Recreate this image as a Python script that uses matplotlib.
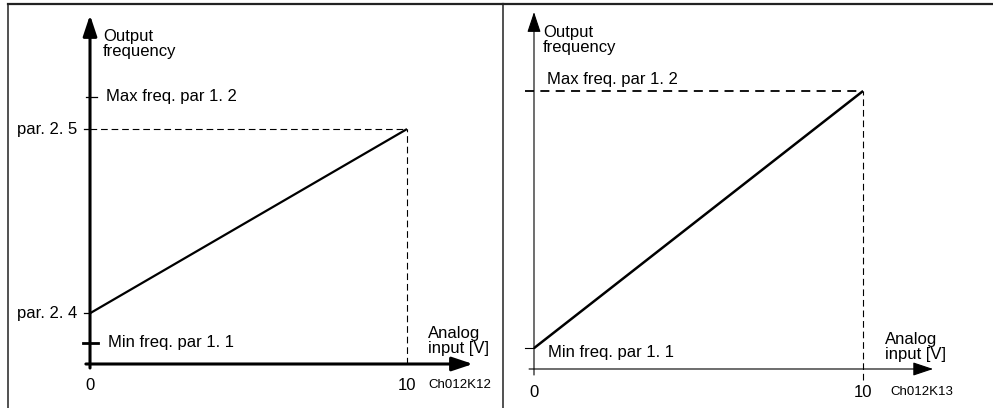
import matplotlib
matplotlib.use('Agg')
from matplotlib import pyplot as plt

plt.rcParams['font.family'] = ['Liberation Sans', 'DejaVu Sans']

# data (illustrative frequency units, input in volts)
volts = [0, 10]
volt_ticks = ['0', '10']

# left chart: par 2.4 -> par 2.5 scaling between min/max freq
left_min_freq = 8
left_max_freq = 100
left_out = [19, 88]          # par. 2.4, par. 2.5
left_out_labels = ['par. 2. 4', 'par. 2. 5']

# right chart: straight min -> max freq
right_min_freq = 7.5
right_max_freq = 100
right_out = [right_min_freq, right_max_freq]

fs = 12
W, H = 993, 408
fig = plt.figure(figsize=(W / 100, H / 100), dpi=100)


def panel(rect, xlim, ylim):
    ax = fig.add_axes(rect)
    ax.set_xlim(*xlim)
    ax.set_ylim(*ylim)
    ax.set_xticks([])
    ax.set_yticks([])
    for s in ['right', 'bottom']:
        ax.spines[s].set_visible(False)
    ax.spines['top'].set_linewidth(1.6)
    ax.spines['top'].set_color('#222222')
    ax.spines['left'].set_linewidth(1.2)
    ax.spines['left'].set_color('#333333')
    return ax


def axis_arrow(ax, start, tip, lw):
    ax.annotate('', xy=tip, xytext=start,
                arrowprops=dict(arrowstyle='-|>,head_length=0.9,head_width=0.3',
                                lw=lw, color='black', shrinkA=0, shrinkB=0,
                                mutation_scale=14))


# ---- left panel ----
ax1 = panel([8 / W, 0, (503 - 8) / W, (H - 4) / H], (-2.587, 13.028), (-16.48, 134.83))
axis_arrow(ax1, (0, -1.5), (0, 130.7), 2.2)
axis_arrow(ax1, (-0.13, 0), (12.08, 0), 2.2)

ax1.plot(volts, left_out, color='black', lw=1.6, solid_capstyle='butt')
ax1.plot([0, volts[1]], [left_out[1], left_out[1]], color='black', lw=0.8, dashes=(6, 3.5))
ax1.plot([volts[1], volts[1]], [0, left_out[1]], color='black', lw=0.8, dashes=(6, 3.5))

# ticks on the y axis
ax1.plot([-0.13, 0.22], [left_max_freq, left_max_freq], color='black', lw=0.9)
ax1.plot([-0.22, 0.24], [left_min_freq, left_min_freq], color='black', lw=2.0)
for v in left_out:
    ax1.plot([-0.2, 0], [v, v], color='black', lw=0.9)

ax1.text(0.41, 125.5, 'Output\nfrequency', fontsize=fs, va='top', ha='left', linespacing=1.0)
ax1.text(0.5, left_max_freq, 'Max freq. par 1. 2', fontsize=fs, va='center', ha='left')
ax1.text(0.57, left_min_freq, 'Min freq. par 1. 1', fontsize=fs, va='center', ha='left')
for v, lab in zip(left_out, left_out_labels):
    ax1.text(-0.41, v, lab, fontsize=fs, va='center', ha='right')
ax1.text(10.66, 8.6, 'Analog\ninput [V]', fontsize=fs, va='center', ha='left', linespacing=1.0)
for v, lab in zip(volts, volt_ticks):
    ax1.text(v, -7.9, lab, fontsize=fs, va='center', ha='center')
ax1.text(10.66, -7.9, 'Ch012K12', fontsize=9.5, va='center', ha='left')

# ---- right panel ----
ax2 = panel([503 / W, 0, (W - 503) / W, (H - 4) / H], (-0.942, 13.95), (-14.03, 131.3))
axis_arrow(ax2, (0, -2.16), (0, 128.4), 0.8)
axis_arrow(ax2, (-0.15, 0), (12.13, 0), 0.8)

ax2.plot(volts, right_out, color='black', lw=1.8, solid_capstyle='butt')
ax2.plot([-0.27, volts[1]], [right_max_freq, right_max_freq], color='black', lw=1.3, dashes=(5, 3.5))
ax2.plot([volts[1], volts[1]], [-4, right_max_freq], color='black', lw=0.8, dashes=(6, 3.5))
ax2.plot([-0.27, 0], [right_min_freq, right_min_freq], color='black', lw=0.8)

ax2.text(0.27, 123.7, 'Output\nfrequency', fontsize=fs, va='top', ha='left', linespacing=1.0)
ax2.text(0.4, 104, 'Max freq. par 1. 2', fontsize=fs, va='center', ha='left')
ax2.text(0.43, 5.8, 'Min freq. par 1. 1', fontsize=fs, va='center', ha='left')
ax2.text(10.67, 7.9, 'Analog\ninput [V]', fontsize=fs, va='center', ha='left', linespacing=1.0)
for v, lab in zip(volts, volt_ticks):
    ax2.text(v, -8.3, lab, fontsize=fs, va='center', ha='center')
ax2.text(10.82, -8.3, 'Ch012K13', fontsize=9.5, va='center', ha='left')

fig.savefig('out.png', dpi=100)
